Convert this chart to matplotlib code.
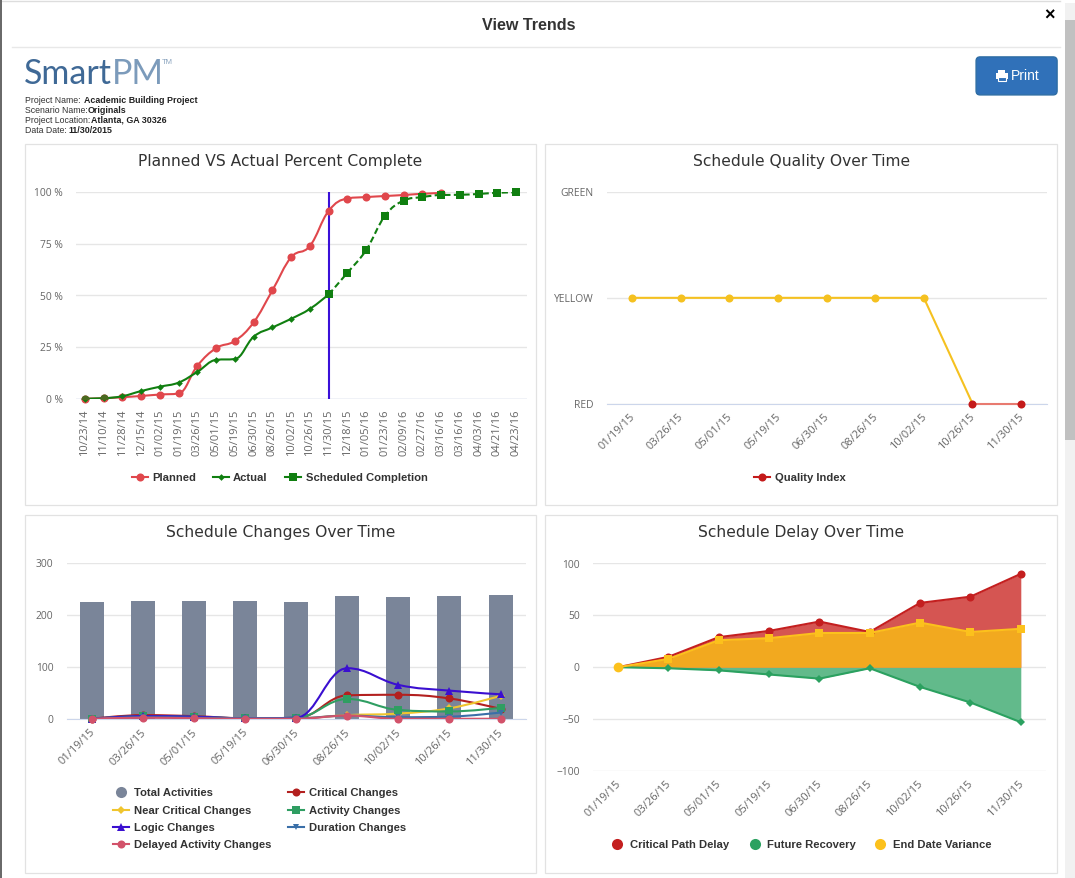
import matplotlib
matplotlib.use('Agg')
import matplotlib.pyplot as plt
from matplotlib.path import Path
from matplotlib.patches import PathPatch, Rectangle, FancyBboxPatch
from matplotlib.lines import Line2D
from matplotlib.transforms import ScaledTranslation

W, H = 1075, 878
GRID = '#e6e6e6'
TICK = '#666666'
TITLE = '#333333'
LEG = '#333333'

# chart 1
pct_dates = ['10/23/14', '11/10/14', '11/28/14', '12/15/14', '01/02/15', '01/19/15',
             '03/26/15', '05/01/15', '05/19/15', '06/30/15', '08/26/15', '10/02/15',
             '10/26/15', '11/30/15', '12/18/15', '01/05/16', '01/23/16', '02/09/16',
             '02/27/16', '03/16/16', '03/16/16', '04/03/16', '04/21/16', '04/23/16']
planned = [0, 0.2, 0.7, 1.3, 2, 2.5, 16, 24.5, 28, 37, 52.5, 68.5, 74, 91, 97, 97.7,
           98.2, 98.7, 99.3, 99.7]
actual = [0, 0.2, 1.2, 3.7, 5.8, 7.8, 13, 18.8, 19.2, 30, 34.5, 38.7, 43.5, 50.5]
scheduled = [50.5, 61, 72, 88.5, 96, 97.7, 98.7, 98.8, 99.2, 99.8, 100]
data_date_idx = 13

# the other three charts share these dates
dates = ['01/19/15', '03/26/15', '05/01/15', '05/19/15', '06/30/15', '08/26/15',
         '10/02/15', '10/26/15', '11/30/15']

# chart 2
quality_labels = ['RED', 'YELLOW', 'GREEN']
quality = [1, 1, 1, 1, 1, 1, 1, 0, 0]

# chart 3
total_activities = [225, 227, 227, 227, 225, 237, 234, 236, 239]
critical_changes = [1, 8, 6, 2, 2, 46, 47, 40, 20]
near_critical = [1, 5, 4, 2, 2, 8, 11, 21, 45]
activity_changes = [1, 6, 5, 2, 3, 39, 18, 15, 22]
logic_changes = [1, 6, 5, 2, 3, 98, 66, 55, 48]
duration_changes = [1, 4, 3, 2, 2, 7, 4, 5, 13]
delayed_changes = [1, 3, 2, 1, 1, 7, 1, 1, 1]

# chart 4
critical_delay = [0, 10, 29, 35, 44, 34, 62, 68, 90]
future_recovery = [0, -1, -3, -7, -11, -1, -19, -34, -53]
end_variance = [0, 8, 26, 28, 33, 33, 43, 34, 37]


def make_axes(fig, left, top, right, bottom):
    ax = fig.add_axes([left / W, 1 - bottom / H, (right - left) / W, (bottom - top) / H])
    ax.patch.set_alpha(0)
    for s in ax.spines.values():
        s.set_visible(False)
    ax.tick_params(length=0, labelsize=8, labelcolor=TICK)
    ax.tick_params(axis='y', pad=9.5, labelsize=7.4)
    ax.yaxis.grid(True, color=GRID, lw=1)
    ax.set_axisbelow(True)
    return ax


def spline_path(xs, ys):
    # same curve highcharts uses for spline series
    verts = [(xs[0], ys[0])]
    codes = [Path.MOVETO]
    n = len(xs)
    def controls(i):
        if i == 0 or i == n - 1:
            return (xs[i], ys[i]), (xs[i], ys[i])
        lx = (1.5 * xs[i] + xs[i - 1]) / 2.5
        ly = (1.5 * ys[i] + ys[i - 1]) / 2.5
        rx = (1.5 * xs[i] + xs[i + 1]) / 2.5
        ry = (1.5 * ys[i] + ys[i + 1]) / 2.5
        c = (ry - ly) * (rx - xs[i]) / (rx - lx) + ys[i] - ry
        ly += c
        ry += c
        lo, hi = min(ys[i - 1], ys[i]), max(ys[i - 1], ys[i])
        if ly > hi:
            ly = hi
            ry = 2 * ys[i] - ly
        elif ly < lo:
            ly = lo
            ry = 2 * ys[i] - ly
        lo, hi = min(ys[i + 1], ys[i]), max(ys[i + 1], ys[i])
        if ry > hi:
            ry = hi
            ly = 2 * ys[i] - ry
        elif ry < lo:
            ry = lo
            ly = 2 * ys[i] - ry
        return (lx, ly), (rx, ry)
    for i in range(1, n):
        verts += [controls(i - 1)[1], controls(i)[0], (xs[i], ys[i])]
        codes += [Path.CURVE4] * 3
    return Path(verts, codes)


def spline(ax, xs, ys, color, marker, ms, ls='-', lw=1.5, z=3):
    ax.add_patch(PathPatch(spline_path(xs, ys), fc='none', ec=color, lw=lw, ls=ls, zorder=z))
    ax.plot(xs, ys, ls='none', marker=marker, color=color, ms=ms, mew=0, zorder=z + 0.05,
            clip_on=False)


def date_ticks(ax, labels, rot=45):
    ax.set_xticks(range(len(labels)))
    if rot == 90:
        ax.set_xticklabels(labels, rotation=90, ha='center', va='top', fontsize=8)
        ax.tick_params(axis='x', pad=7.5)
    else:
        ax.set_xticklabels(labels, rotation=rot, ha='right', va='top',
                           rotation_mode='anchor', fontsize=8)
        ax.tick_params(axis='x', pad=5.5)
        shift = ScaledTranslation(-2 / 72, 0, fig.dpi_scale_trans)
        for lab in ax.get_xticklabels():
            lab.set_transform(lab.get_transform() + shift)


def legend_item(bg, x, y, label, color, marker, ms, line=True):
    if line:
        bg.add_line(Line2D([x - 8, x + 8], [y, y], color=color, lw=1.5))
    bg.plot([x], [y], marker=marker, color=color, ms=ms, mew=0, ls='none')
    bg.text(x + 12.5, y + 0.7, label, fontsize=8.15, fontweight='bold', color=LEG, va='center',
            family='Liberation Sans')


plt.rcParams['font.family'] = ['Open Sans', 'DejaVu Sans']
# a hair over so the canvas does not round down to 877 px
fig = plt.figure(figsize=((W + 0.1) / 100, (H + 0.1) / 100), dpi=100, facecolor='white')

# page furniture, drawn in pixel coordinates
bg = fig.add_axes([0, 0, 1, 1], zorder=0)
bg.set_xlim(0, W)
bg.set_ylim(H, 0)
bg.axis('off')
bg.add_line(Line2D([0, 1060], [1, 1], color='#dddddd', lw=1))
bg.add_line(Line2D([0.5, 0.5], [0, H], color='#666666', lw=1.4))
bg.add_line(Line2D([12, 1060], [47.5, 47.5], color='#e8e8e8', lw=1))
bg.add_patch(Rectangle((1065, 3), 10, H, fc='#f1f1f1', ec='none'))
bg.add_patch(Rectangle((1065, 20), 10, 420, fc='#c1c1c1', ec='none'))
bg.text(529, 25.5, 'View Trends', ha='center', va='center', fontsize=11.6, fontweight='bold',
        color='#333333', family='Liberation Sans')
bg.text(1049, 16, '×', ha='center', va='center', fontsize=13, fontweight='bold', color='#000000',
        family='Liberation Sans')
bg.text(24, 74, 'Smart', ha='left', va='center', fontsize=24.5, color='#3f6996', family='Lato')
bg.text(112, 74, 'PM', ha='left', va='center', fontsize=24.5, color='#7c9bbb', family='Lato')
bg.text(162, 62, 'TM', ha='left', va='center', fontsize=5.5, color='#8aa4bf', family='Liberation Sans')

info_keys = ['Project Name: ', 'Scenario Name: ', 'Project Location: ', 'Data Date: ']
info_vals = ['Academic Building Project', 'Originals', 'Atlanta, GA 30326', '11/30/2015']
info_offs = [59, 63, 66, 43]
for i, (k, v, o) in enumerate(zip(info_keys, info_vals, info_offs)):
    bg.text(25, 100 + i * 10, k, fontsize=6.3, va='center', color='#333333', family='Liberation Sans')
    bg.text(25 + o, 100 + i * 10, v, fontsize=6.4, va='center', color='#222222', fontweight='bold',
            family='Liberation Sans')

# print button, no installed font has the printer glyph
bg.add_patch(FancyBboxPatch((976, 57), 81, 38, boxstyle='round,pad=0,rounding_size=4',
                            fc='#3071b9', ec='#2e6da4', lw=1))
bg.add_patch(Rectangle((998, 70), 7, 4, fc='white', ec='none'))
bg.add_patch(Rectangle((996, 73.5), 12, 5.5, fc='white', ec='none'))
bg.add_patch(Rectangle((998, 77), 8, 4, fc='#3071b9', ec='white', lw=0.8))
bg.text(1011, 75.7, 'Print', ha='left', va='center', fontsize=10, color='white',
        family='Liberation Sans')

panels = [(25, 144, 536, 505, 'Planned VS Actual Percent Complete'),
          (545, 144, 1057, 505, 'Schedule Quality Over Time'),
          (25, 515, 536, 873, 'Schedule Changes Over Time'),
          (545, 515, 1057, 873, 'Schedule Delay Over Time')]
for x0, y0, x1, y1, title in panels:
    bg.add_patch(Rectangle((x0, y0), x1 - x0, y1 - y0, fc='white', ec='#e2e2e2', lw=0.9))
    bg.text((x0 + x1) / 2, y0 + 17.7, title, ha='center', va='center', fontsize=11.2, color=TITLE,
            family='DejaVu Sans')

# chart 1
ax1 = make_axes(fig, 76, 192.4, 527, 398.7)
step = (516 - 85) / 23
ax1.set_xlim(-(85 - 76) / step, 23 + (527 - 516) / step)
ax1.set_ylim(0, 100)
ax1.set_yticks([0, 25, 50, 75, 100])
ax1.set_yticklabels(['0 %', '25 %', '50 %', '75 %', '100 %'])
date_ticks(ax1, pct_dates, rot=90)
ax1.axhline(0, color='#ccd6eb', lw=1, zorder=1)
RED1, GREEN1 = '#e0474c', '#107f10'
spline(ax1, list(range(len(planned))), planned, RED1, 'o', 5.8)
spline(ax1, list(range(len(actual))), actual, GREEN1, 'D', 3.4, z=4)
spline(ax1, list(range(data_date_idx, data_date_idx + len(scheduled))), scheduled, GREEN1, 's', 5.6,
       ls=(0, (3, 1.6)), z=5)
ax1.plot([0, 1], [0, 0.2], ls='none', marker='o', color='#4a6a20', ms=5.8, mew=0, zorder=6)
ax1.plot([data_date_idx, data_date_idx], [0, 100], color='#3a10d8', lw=1.5, zorder=2)

legend_item(bg, 139.5, 477, 'Planned', RED1, 'o', 5.8)
legend_item(bg, 220.5, 477, 'Actual', GREEN1, 'D', 3.4)
legend_item(bg, 293, 477, 'Scheduled Completion', GREEN1, 's', 5.6)

# chart 2
ax2 = make_axes(fig, 607, 192.2, 1047, 403.6)
step = (1021 - 632) / 8
ax2.set_xlim(-(632 - 607) / step, 8 + (1047 - 1021) / step)
ax2.set_ylim(0, 2)
ax2.set_yticks([0, 1, 2])
ax2.set_yticklabels(quality_labels)
date_ticks(ax2, dates)
ax2.spines['bottom'].set_visible(True)
ax2.spines['bottom'].set_color('#ccd6eb')
YEL, RED2 = '#f5c120', '#c41a1a'
ax2.plot(range(8), quality[:8], color=YEL, lw=1.5, zorder=3, clip_on=False)
ax2.plot([7, 8], quality[7:9], color='#e87a70', lw=1.5, zorder=3, clip_on=False)
ax2.plot(range(7), quality[:7], ls='none', marker='o', color=YEL, ms=5.8, mew=0, zorder=4)
ax2.plot([7, 8], quality[7:9], ls='none', marker='o', color=RED2, ms=5.8, mew=0, zorder=4,
         clip_on=False)
legend_item(bg, 762, 477, 'Quality Index', RED2, 'o', 5.8)

# chart 3
ax3 = make_axes(fig, 66.5, 563, 526, 719.3)
ax3.set_xlim(-0.5, 8.5)
ax3.set_ylim(0, 300)
ax3.set_yticks([0, 100, 200, 300])
date_ticks(ax3, dates)
ax3.spines['bottom'].set_visible(True)
ax3.spines['bottom'].set_color('#ccd6eb')
GREY = '#7a8599'
ax3.bar(range(9), total_activities, width=0.47, color=GREY, zorder=2)
xs = list(range(9))
DARKRED, NEAR, ACT, LOGIC, DUR, DELAY = '#b3201f', '#f0c52e', '#2f9e62', '#3a0fd0', '#3a6fa8', '#d2526a'
spline(ax3, xs, critical_changes, DARKRED, 'o', 5.8, z=3)
spline(ax3, xs, near_critical, NEAR, 'D', 3.6, z=3.1)
spline(ax3, xs, activity_changes, ACT, 's', 5.6, z=3.2)
spline(ax3, xs, logic_changes, LOGIC, '^', 5.8, z=3.3)
spline(ax3, xs, duration_changes, DUR, 'v', 5, z=3.4)
spline(ax3, xs, delayed_changes, DELAY, 'o', 5.8, z=3.5)

legend_item(bg, 121, 792, 'Total Activities', GREY, 'o', 8, line=False)
legend_item(bg, 296, 792, 'Critical Changes', DARKRED, 'o', 5.8)
legend_item(bg, 121, 810, 'Near Critical Changes', NEAR, 'D', 3.6)
legend_item(bg, 296, 810, 'Activity Changes', ACT, 's', 5.6)
legend_item(bg, 121, 827, 'Logic Changes', LOGIC, '^', 5.8)
legend_item(bg, 296, 827, 'Duration Changes', DUR, 'v', 5)
legend_item(bg, 121, 844, 'Delayed Activity Changes', DELAY, 'o', 5.8)

# chart 4
ax4 = make_axes(fig, 593, 563.5, 1046, 771)
step = (1020.7 - 618) / 8
ax4.set_xlim(-(618 - 593) / step, 8 + (1046 - 1020.7) / step)
ax4.set_ylim(-100, 100)
ax4.set_yticks([-100, -50, 0, 50, 100])
ax4.set_yticklabels(['−100', '−50', '0', '50', '100'])
date_ticks(ax4, dates)
C_RED, C_GREEN, C_YEL = '#c41f1f', '#2ba160', '#fcc11c'
ax4.fill_between(xs, 0, critical_delay, color='#d55552', lw=0, zorder=2)
ax4.fill_between(xs, 0, future_recovery, color='#62ba8b', lw=0, zorder=2)
ax4.fill_between(xs, 0, end_variance, color='#f2a91f', lw=0, zorder=3)
ax4.plot(xs, critical_delay, color=C_RED, lw=1.5, marker='o', ms=5.8, mew=0, zorder=3, clip_on=False)
ax4.plot(xs, future_recovery, color=C_GREEN, lw=1.5, marker='D', ms=3.6, mew=0, zorder=3, clip_on=False)
ax4.plot(xs, end_variance, color=C_YEL, lw=1.5, zorder=4)
ax4.plot(xs[1:], end_variance[1:], ls='none', marker='s', color=C_YEL, ms=5.6, mew=0, zorder=4,
         clip_on=False)
ax4.plot(xs[:1], end_variance[:1], ls='none', marker='o', color=C_YEL, ms=7, mew=0, zorder=5)

legend_item(bg, 617, 844, 'Critical Path Delay', C_RED, 'o', 8, line=False)
legend_item(bg, 754.5, 844, 'Future Recovery', C_GREEN, 'o', 8, line=False)
legend_item(bg, 880, 844, 'End Date Variance', C_YEL, 'o', 8, line=False)

fig.savefig('out.png', dpi=100)
